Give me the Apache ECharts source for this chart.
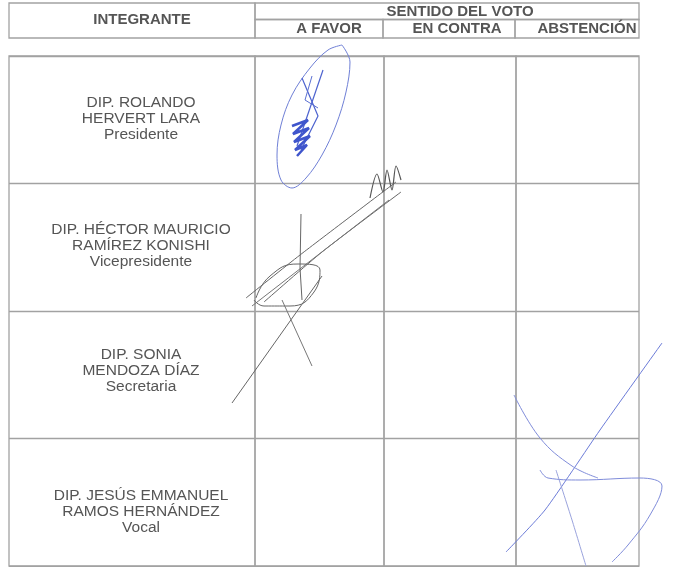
<!DOCTYPE html>
<html><head><meta charset="utf-8">
<script src="https://cdn.jsdelivr.net/npm/echarts@6/dist/echarts.min.js"></script>
<style>html,body{margin:0;padding:0;background:#fff}#c{width:684px;height:567px}</style>
</head><body><div id="c"></div>
<script>
// ---- data ----
const headerMember = ['INTEGRANTE'];
const headerVote = ['SENTIDO DEL VOTO'];
const voteOptions = ['A FAVOR', 'EN CONTRA', 'ABSTENCIÓN'];
const members = ['DIP. ROLANDO\nHERVERT LARA', 'DIP. HÉCTOR MAURICIO\nRAMÍREZ KONISHI', 'DIP. SONIA\nMENDOZA DÍAZ', 'DIP. JESÚS EMMANUEL\nRAMOS HERNÁNDEZ'];
const roles = ['Presidente', 'Vicepresidente', 'Secretaria', 'Vocal'];
const votes = ['A FAVOR', 'A FAVOR', 'A FAVOR', 'ABSTENCIÓN'];

// signature ink strokes (page units)
const sigRolandoOval = [[342,45],[350,62],[346,92],[336,125],[322,155],[306,178],[292,188],[281,180],[277,155],[281,125],[292,95],[310,68],[328,50],[342,45]];
const sigRolandoA = [[302,78],[318,116],[301,150]];
const sigRolandoB = [[323,70],[297,146]];
const sigRolandoE = [[312,76],[305,100],[318,108]];
const sigRolandoC = [[292,126],[308,120],[293,134],[309,128],[294,142],[310,136],[295,150],[307,145],[297,156]];
const sigHectorTop = [[370,198],[377,174],[383,192],[387,170],[392,190],[396,166],[401,180]];
const sigHectorL1 = [[396,182],[300,255],[246,298]];
const sigHectorL2 = [[401,192],[322,252],[264,302]];
const sigHectorL3 = [[389,200],[252,306]];
const sigHectorV = [[301,214],[300,268],[302,300]];
const sigHectorLoop = [[256,298],[270,276],[298,264],[320,270],[314,292],[290,306],[264,306],[254,300]];
const sigSoniaL = [[232,403],[322,276]];
const sigSoniaT = [[282,300],[312,366]];
const sigJesusD = [[662,343],[600,430],[545,510],[506,552]];
const sigJesusC = [[514,395],[540,438],[572,466],[598,478]];
const sigJesusW = [[540,470],[548,478],[580,480],[640,478],[662,486],[650,515],[628,545],[612,562]];
const sigJesusT = [[556,470],[572,520],[586,566]];

// ---- layout ----
const lineC = '#a2a2a2';
const textC = '#555';
const font = 'Liberation Sans, Arial, sans-serif';
const colX = [255, 384, 516, 639];
const hdrColX = [255, 383, 515, 639];
// spacer lines to nudge each row's text block [top, bottom]
const rowNudge = [[0, 2], [0, 4], [0, 8], [18, 0]];

const grids = [], xAxes = [], yAxes = [], series = [];
function addGrid(g) { grids.push(Object.assign({show: true, borderColor: lineC, borderWidth: 1.3, backgroundColor: 'transparent'}, g)); return grids.length - 1; }
const hiddenVal = (gi) => ({type: 'value', gridIndex: gi, show: false, min: 0, max: 1});

// header: INTEGRANTE
let gi = addGrid({left: 9, top: 3, width: 246, height: 35});
xAxes.push({type: 'category', gridIndex: gi, data: headerMember, axisLine: {show: false}, axisTick: {show: false},
  axisLabel: {inside: true, margin: 18, verticalAlign: 'middle', fontWeight: 'bold', fontSize: 15, color: textC, fontFamily: font, padding: [0, 0, 0, 20]}});
yAxes.push(hiddenVal(gi));
// header: SENTIDO DEL VOTO
gi = addGrid({left: 255, top: 3, width: 384, height: 16.5});
xAxes.push({type: 'category', gridIndex: gi, data: headerVote, axisLine: {show: false}, axisTick: {show: false},
  axisLabel: {inside: true, margin: 8, verticalAlign: 'middle', fontWeight: 'bold', fontSize: 15, color: textC, fontFamily: font, padding: [0, 0, 0, 26]}});
yAxes.push(hiddenVal(gi));
// header: options
const hdrShift = [20, 16, 20];
voteOptions.forEach((opt, i) => {
  const g = addGrid({left: hdrColX[i], top: 19.5, width: hdrColX[i + 1] - hdrColX[i], height: 18.5});
  xAxes.push({type: 'category', gridIndex: g, data: [opt], axisLine: {show: false}, axisTick: {show: false},
    axisLabel: {inside: true, margin: 9, verticalAlign: 'middle', fontWeight: 'bold', fontSize: 15, color: textC, fontFamily: font, padding: [0, 0, 0, hdrShift[i]]}});
  yAxes.push(hiddenVal(g));
});
// body: member column
const bodyTop = 56, bodyH = 510;
const rich = {t: {fontSize: 15.5, lineHeight: 16, color: textC, fontFamily: font, align: 'center'}};
[2, 4, 8, 18].forEach(h => { rich['g' + h] = {fontSize: 1, lineHeight: h}; });
gi = addGrid({left: 9, top: bodyTop, width: 246, height: bodyH});
xAxes.push(hiddenVal(gi));
yAxes.push({type: 'category', gridIndex: gi, inverse: true, axisLine: {show: false}, axisTick: {show: false},
  data: members,
  splitLine: {show: true, interval: 0, lineStyle: {color: lineC, width: 1.3}},
  axisLabel: {inside: true, margin: 132, align: 'center', verticalAlign: 'middle', color: textC, fontFamily: font, rich: rich,
    formatter: (v, i) => {
      const lines = (v + '\n' + roles[i]).split('\n').map(s => '{t|' + s + '}');
      const [top, bot] = rowNudge[i];
      if (top) lines.unshift('{g' + top + '| }');
      if (bot) lines.push('{g' + bot + '| }');
      return lines.join('\n');
    }}});
// body: vote columns
voteOptions.forEach((opt, i) => {
  const g = addGrid({left: colX[i], top: bodyTop, width: colX[i + 1] - colX[i], height: bodyH});
  xAxes.push({type: 'category', gridIndex: g, data: [opt], show: false});
  yAxes.push({type: 'category', gridIndex: g, data: members, inverse: true, axisLine: {show: false}, axisTick: {show: false}, axisLabel: {show: false},
    splitLine: {show: true, interval: 0, lineStyle: {color: lineC, width: 1.3}}});
});
// ink overlay
gi = addGrid({left: 0, top: 0, right: 0, bottom: 0, show: false});
xAxes.push({type: 'value', gridIndex: gi, min: 0, max: 684, show: false});
yAxes.push({type: 'value', gridIndex: gi, min: 0, max: 567, inverse: true, show: false});
const strokes = [
  [sigRolandoOval, 0.35, '#6f7fd6', 1], [sigRolandoA, 0, '#4d63cf', 1.2], [sigRolandoB, 0, '#4d63cf', 1.2], [sigRolandoE, 0, '#5a6fd2', 1],
  [sigRolandoC, 0, '#3f55cc', 2.5],
  [sigHectorTop, 0.3, '#555', 1.2], [sigHectorL1, 0.2, '#666', 1], [sigHectorL2, 0.2, '#666', 1], [sigHectorL3, 0, '#777', 1],
  [sigHectorV, 0, '#666', 1], [sigHectorLoop, 0.5, '#666', 1], [sigSoniaL, 0, '#666', 1], [sigSoniaT, 0, '#777', 1],
  [sigJesusD, 0.2, '#6b7bd8', 1], [sigJesusC, 0.4, '#7f8cda', 1], [sigJesusW, 0.4, '#7f8cda', 1], [sigJesusT, 0.2, '#9aa3dd', 1]
];
strokes.forEach(([pts, sm, col, w]) => {
  series.push({type: 'line', xAxisIndex: xAxes.length - 1, yAxisIndex: yAxes.length - 1, data: pts, smooth: sm,
    showSymbol: false, silent: true, animation: false, lineStyle: {color: col, width: w}});
});

const chart = echarts.init(document.getElementById('c'), null, {renderer: 'canvas'});
chart.setOption({animation: false, backgroundColor: '#fff', grid: grids, xAxis: xAxes, yAxis: yAxes, series: series});
</script></body></html>
